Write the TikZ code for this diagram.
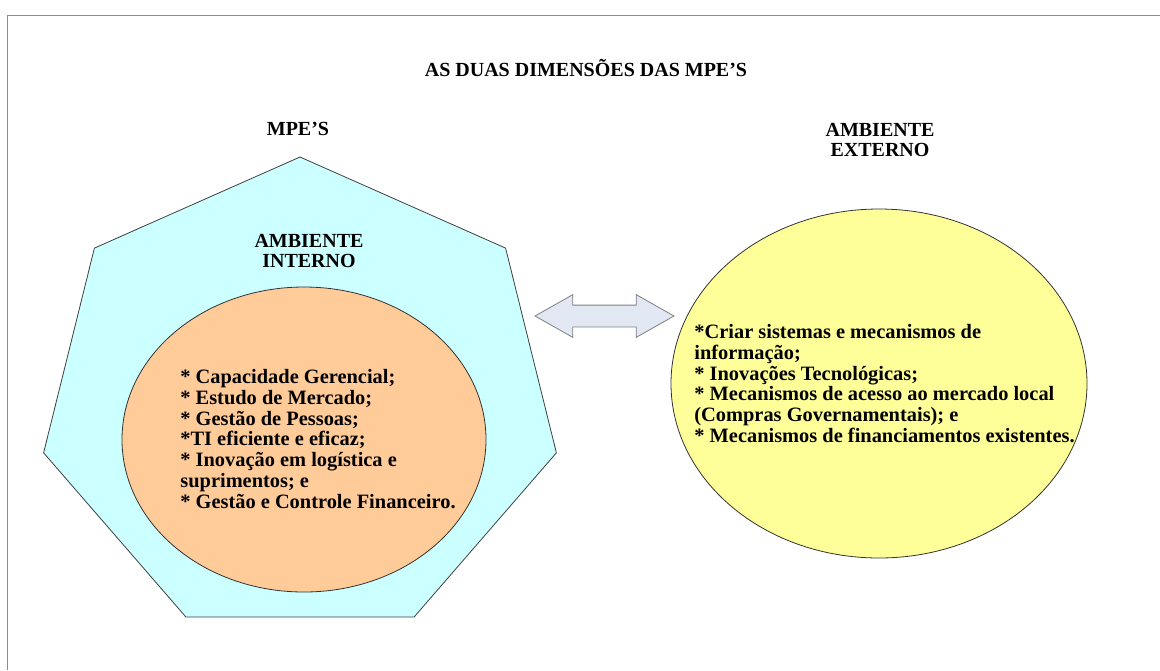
\documentclass[tikz,border=0pt]{standalone}
\usepackage{fontspec}
\setmainfont{Liberation Serif}
\usetikzlibrary{%
   shapes.geometric,%
   shapes.arrows%
}
\definecolor{hepcyan}{HTML}{CCFFFF}
\definecolor{ovalorange}{HTML}{FFCC99}
\definecolor{ovalyellow}{HTML}{FFFF99}
\definecolor{arrowfill}{HTML}{E1E7F3}

\begin{document}
\begin{tikzpicture}[x=0.5pt,y=-0.5pt,heading/.style={
	font=\bfseries\fontsize{10}{10.35}\selectfont,
	align=center,
	inner sep=0pt
	},itemlist/.style={
	font=\bfseries\fontsize{10.2}{10.35}\selectfont,
	align=left,inner sep=0pt,anchor=west
	},hepta/.style={
	draw=black!75,fill=hepcyan
	},oval/.style={
	ellipse,draw=black!80,inner sep=0pt
	},twoway/.style={
	double arrow,draw=black!50,fill=arrowfill,
	inner sep=5.25pt,minimum height=69.5pt,
	double arrow head extend=5.25pt,double arrow tip angle=59
	}
]
\useasboundingbox (0,0) rectangle (1160,670);

% frame
\draw[black!45] (7,670) -- (7,15) -- (1160,15);

% heptagon (MPE'S)
\draw[hepta] (300,157) -- (505.6,248.1) -- (556.4,452.8) -- (414.1,617)
	-- (185.9,617) -- (43.6,452.8) -- (94.4,248.1) -- cycle;

% ovals
\node (interno) [oval,fill=ovalorange,minimum width=182pt,minimum height=152.5pt] at (304,439.5) {};
\node (externo) [oval,fill=ovalyellow,minimum width=208pt,minimum height=174.5pt] at (879,383.5) {};

% arrow between the two
\node (link) [twoway] at (604.5,316) {};

% titles
\node (title) [heading] at (586,68) {AS DUAS DIMENSÕES DAS MPE’S};
\node (mpes) [heading] at (298,129) {MPE’S};
\node (ambext) [heading] at (880,140) {AMBIENTE\\EXTERNO};
\node (ambint) [heading] at (309,251) {AMBIENTE\\INTERNO};

% lists
\node (intlist) [itemlist] at (180,439) {* Capacidade Gerencial;\\* Estudo de Mercado;\\* Gestão de Pessoas;\\*TI eficiente e eficaz;\\* Inovação em logística e\\suprimentos; e\\* Gestão e Controle Financeiro.};
\node (extlist) [itemlist] at (694,383.5) {*Criar sistemas e mecanismos de\\informação;\\* Inovações Tecnológicas;\\* Mecanismos de acesso ao mercado local\\(Compras Governamentais); e\\* Mecanismos de financiamentos existentes.};

\end{tikzpicture}
\end{document}
